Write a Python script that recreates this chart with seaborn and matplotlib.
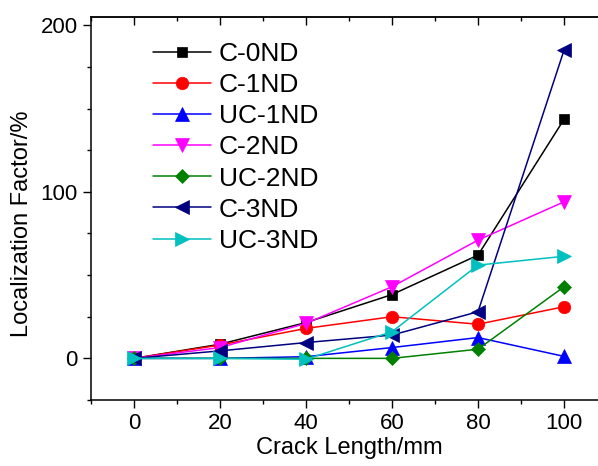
import numpy as np
import pandas as pd
import matplotlib
matplotlib.use("Agg")
import matplotlib.pyplot as plt
import seaborn as sns
from matplotlib.ticker import MultipleLocator

crack_length = [0, 20, 40, 60, 80, 100]
c_0nd = [0, 8.5, 21.5, 38.3, 62, 143.5]
c_1nd = [0, 8.0, 18, 25, 20.5, 31]
uc_1nd = [0, 0, 1, 6.5, 12.5, 1.2]
c_2nd = [0, 6.5, 21, 43, 71, 94]
uc_2nd = [0, 0, 0, 0, 5.5, 43]
c_3nd = [0, 4.5, 9.5, 14, 28, 185]
uc_3nd = [0, 0, -0.5, 16, 56, 61.3]

series_names = ["C-0ND", "C-1ND", "UC-1ND", "C-2ND", "UC-2ND", "C-3ND", "UC-3ND"]
series_vals = [c_0nd, c_1nd, uc_1nd, c_2nd, uc_2nd, c_3nd, uc_3nd]
colors = ["#000000", "#ff0000", "#0000ff", "#ff00ff", "#008000", "#000080", "#00c0c0"]
markers = ["s", "o", "^", "v", "D", "<", ">"]
msizes = [7.5, 9, 9.5, 9.5, 7.5, 9.5, 9.5]

rows = []
for name, vals in zip(series_names, series_vals):
    for x, v in zip(crack_length, vals):
        rows.append({"Crack Length/mm": x, "Localization Factor/%": v, "series": name})
df = pd.DataFrame(rows)

sns.set_style("ticks")
plt.rcParams["font.family"] = ["Liberation Sans", "DejaVu Sans"]
plt.rcParams["text.color"] = "black"
plt.rcParams["axes.labelcolor"] = "black"
plt.rcParams["xtick.color"] = "black"
plt.rcParams["ytick.color"] = "black"

fig = plt.figure(figsize=(5.98, 4.66), dpi=100)
ax = fig.add_axes([91 / 598, (466 - 400) / 466, (607 - 91) / 598, (400 - 17) / 466])

for name, col, mk, ms in zip(series_names, colors, markers, msizes):
    sub = df[df["series"] == name]
    sns.lineplot(data=sub, x="Crack Length/mm", y="Localization Factor/%", ax=ax,
                 color=col, marker=mk, markersize=ms, markeredgewidth=0.5,
                 markeredgecolor=col, linewidth=1.1, label=name, zorder=3)

ax.set_xlim(-10, 110)
ax.set_ylim(-25, 205)
ax.xaxis.set_major_locator(MultipleLocator(20))
ax.xaxis.set_minor_locator(MultipleLocator(10))
ax.yaxis.set_major_locator(MultipleLocator(100))
ax.yaxis.set_minor_locator(MultipleLocator(25))
ax.tick_params(which="major", direction="out", length=6, width=1, labelsize=16, colors="black")
ax.tick_params(which="minor", direction="out", length=3, width=1)
for s in ax.spines.values():
    s.set_linewidth(1.1)
    s.set_color("black")

sec = ax.secondary_xaxis("top")
sec.xaxis.set_major_locator(MultipleLocator(20))
sec.xaxis.set_minor_locator(MultipleLocator(10))
sec.tick_params(which="major", direction="in", length=6, width=1, labeltop=False)
sec.tick_params(which="minor", direction="in", length=3, width=1)
sec.spines["top"].set_linewidth(1.1)

ax.set_xlabel("Crack Length/mm", fontsize=17, labelpad=2, color="black")
ax.set_ylabel("Localization Factor/%", fontsize=17, color="black")
ax.yaxis.set_label_coords(-0.112, 0.46)

leg = ax.legend(loc="upper left", bbox_to_anchor=(0.099, 0.962), frameon=False,
                fontsize=19, handlelength=2.2, handletextpad=0.3, labelspacing=0.27,
                borderaxespad=0, labelcolor="black")

fig.savefig("out.png", dpi=100)
